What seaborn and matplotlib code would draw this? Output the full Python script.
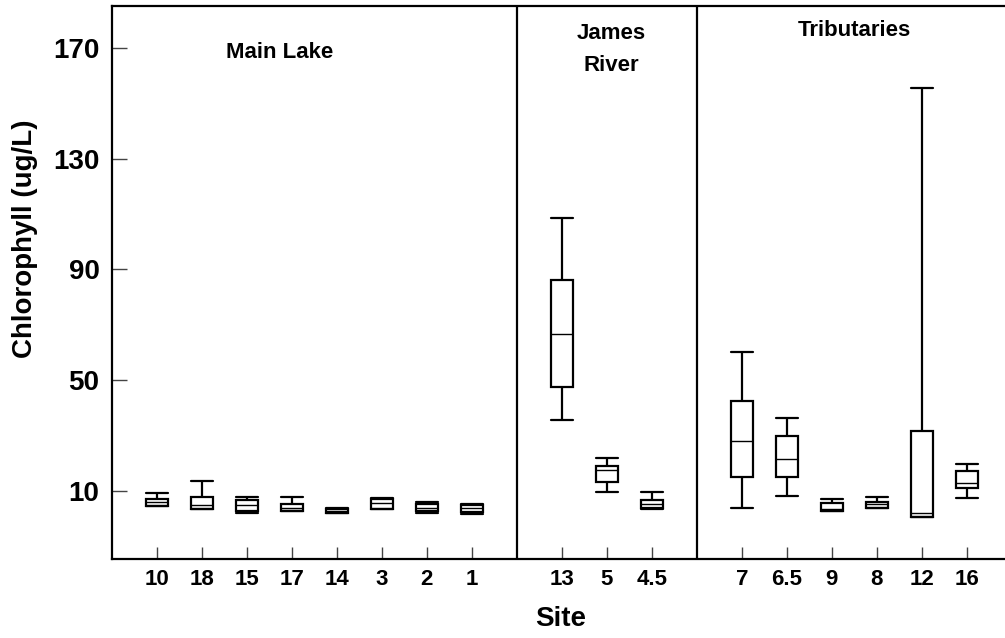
import pandas as pd
import seaborn as sns
import matplotlib.pyplot as plt

# box stats, one entry per site (left to right)
sites = ['10', '18', '15', '17', '14', '3', '2', '1',
         '13', '5', '4.5',
         '7', '6.5', '9', '8', '12', '16']
group = ['Main Lake'] * 8 + ['James River'] * 3 + ['Tributaries'] * 6
low = [4.5, 3.3, 1.9, 2.8, 2.0, 3.4, 1.9, 1.7, 35.7, 9.7, 3.5, 4.0, 8.3, 2.9, 4.0, 0.6, 7.4]
q1 = [4.6, 3.5, 2.9, 2.8, 2.1, 3.6, 2.8, 2.3, 47.7, 13.1, 3.7, 14.9, 14.9, 2.9, 4.0, 0.7, 11.1]
median = [6.0, 5.0, 4.8, 4.0, 2.8, 5.5, 4.0, 3.7, 66.6, 17.6, 5.3, 28.2, 21.4, 3.5, 5.2, 2.2, 13.0]
q3 = [7.2, 7.9, 6.8, 5.2, 3.6, 7.0, 5.2, 4.9, 86.2, 19.1, 6.7, 42.5, 29.9, 5.6, 6.1, 31.8, 17.3]
high = [9.2, 13.6, 7.9, 7.7, 3.7, 7.6, 5.9, 5.3, 108.7, 22.0, 9.7, 60.1, 36.5, 7.1, 7.9, 155.4, 19.8]

yticks = [10, 50, 90, 130, 170]

# five values per site give exactly these quartiles / whisker ends
rows = []
for i, s in enumerate(sites):
    for v in (low[i], q1[i], median[i], q3[i], high[i]):
        rows.append({'Site': s, 'Chl': v, 'Group': group[i]})
df = pd.DataFrame(rows)

# blank slots between groups for the divider lines
order = sites[:8] + [' '] + sites[8:11] + ['  '] + sites[11:]

sns.set_style('white')
plt.rcParams['font.family'] = ['Liberation Sans', 'DejaVu Sans']
plt.rcParams['font.weight'] = 'bold'
plt.rcParams['text.color'] = 'black'
plt.rcParams['axes.labelcolor'] = 'black'
plt.rcParams['xtick.labelcolor'] = 'black'
plt.rcParams['ytick.labelcolor'] = 'black'

fig, ax = plt.subplots(figsize=(10.05, 6.38), dpi=100)
fig.subplots_adjust(left=0.1114, right=1.0, bottom=0.1238, top=0.9906)

sns.boxplot(data=df, x='Site', y='Chl', order=order, whis=(0, 100), width=0.5,
            color='white', linecolor='black', linewidth=1.6, showfliers=False,
            medianprops={'linewidth': 1.0}, capwidths=0.5, ax=ax)

ax.axvline(order.index(' '), color='black', lw=1.6)
ax.axvline(order.index('  '), color='black', lw=1.6)

ticks = [i for i, s in enumerate(order) if s.strip()]
ax.set_xticks(ticks, [order[i] for i in ticks])
ax.set_yticks(yticks)
ax.set_xlim(-1, 18.85)
ax.set_ylim(-14.6, 185.2)

ax.tick_params(axis='y', direction='in', length=11, width=1, pad=9, labelsize=20,
               left=True, color='#444444', labelcolor='black')
ax.tick_params(axis='x', direction='in', length=9, width=1, pad=7, labelsize=16,
               bottom=True, color='#444444', labelcolor='black')
for lab in ax.get_xticklabels() + ax.get_yticklabels():
    lab.set_fontweight('bold')

for side in ['top', 'left', 'bottom']:
    ax.spines[side].set_linewidth(1.6)
    ax.spines[side].set_color('black')
ax.spines['right'].set_visible(False)

ax.set_ylabel('Chlorophyll (ug/L)', fontsize=20, fontweight='bold', color='black')
ax.yaxis.set_label_coords(-0.083, 0.58)
ax.set_xlabel('Site', fontsize=20, fontweight='bold', color='black')
ax.xaxis.set_label_coords(0.502, -0.085)

ax.text(2.73, 168.5, 'Main Lake', ha='center', va='center', fontsize=16,
        fontweight='bold', color='black')
ax.text(10.1, 169.5, 'James\nRiver', ha='center', va='center', fontsize=16,
        fontweight='bold', linespacing=1.7, color='black')
ax.text(15.5, 176.5, 'Tributaries', ha='center', va='center', fontsize=16,
        fontweight='bold', color='black')

plt.savefig('out.png', dpi=100)
